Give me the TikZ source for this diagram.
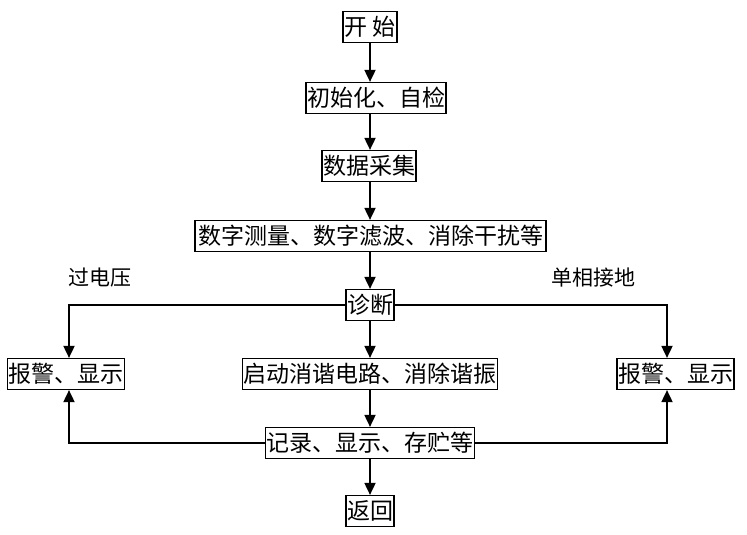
\documentclass[tikz,border=0pt]{standalone}
\usepackage{fontspec}
\newfontfamily\cjk{Noto Sans CJK SC}
\usetikzlibrary{arrows.meta}

\tikzset{
  box/.style={draw,line width=1.2pt,inner xsep=1pt,inner ysep=0pt,
    minimum height=31pt,font=\cjk\fontsize{23}{23}\selectfont},
  tag/.style={font=\cjk\fontsize{21}{21}\selectfont},
  flow/.style={->,line width=1.8pt}
}

\begin{document}
\begin{tikzpicture}[x=1pt,y=-1pt,>={Triangle[length=12pt,width=11pt]}]
\useasboundingbox (0,0) rectangle (747,535);
\node[box] (start) at (370,27) {开\hspace{6pt}始};
\node[box] (init) at (376,98) {初始化、自检};
\node[box] (acq) at (369,166) {数据采集};
\node[box,minimum width=351pt] (proc) at (370.5,236) {数字测量、数字滤波、消除干扰等};
\node[box] (diag) at (370,305) {诊断};
\node[box] (alarmL) at (66,374) {报警、显示};
\node[box] (damp) at (370,374) {启动消谐电路、消除谐振};
\node[box] (alarmR) at (675.5,374) {报警、显示};
\node[box] (rec) at (370,443) {记录、显示、存贮等};
\node[box] (back) at (370,511) {返回};
\node[tag] (ov) at (100,278) {过电压};
\node[tag] (gnd) at (593,278) {单相接地};
\coordinate (lx) at (69,0);
\coordinate (rx) at (667,0);
% main line
\draw[flow] (start) -- (start |- init.north);
\draw[flow] (init.south -| start) -- (acq.north -| start);
\draw[flow] (acq.south -| start) -- (proc.north -| start);
\draw[flow] (proc.south -| start) -- (diag);
\draw[flow] (diag) -- (damp);
\draw[flow] (damp) -- (rec);
\draw[flow] (rec) -- (back);
% branches
\draw[flow] (diag.west) -| (alarmL.north -| lx);
\draw[flow] (diag.east) -| (alarmR.north -| rx);
\draw[flow] (rec.west) -| (alarmL.south -| lx);
\draw[flow] (rec.east) -| (alarmR.south -| rx);
\end{tikzpicture}
\end{document}
